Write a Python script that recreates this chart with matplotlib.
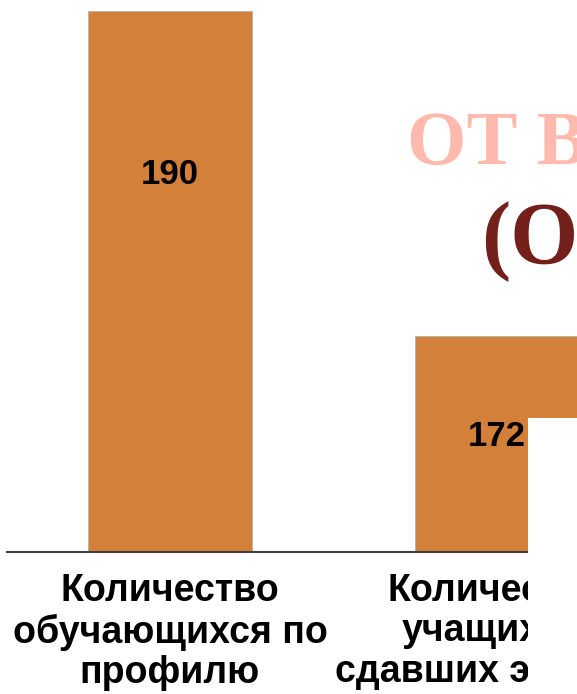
import matplotlib
matplotlib.use("Agg")
import matplotlib.pyplot as plt
from matplotlib.patches import Rectangle

# ---- data ----
categories = ["Количество\nобучающихся по\nпрофилю",
              "Количество\nучащихся,\nсдавших экзамен"]
values = [190, 172]
value_labels = ["190", "172"]
title_line1 = "ОТ ВЫБОРА"
title_line2 = "(ОГЭ)"

W, H = 577, 694
fig = plt.figure(figsize=(W / 100, H / 100), dpi=100)
fig.patch.set_facecolor("white")

ax = fig.add_axes([7 / W, (H - 552) / H, 570 / W, 552 / H])
x = list(range(len(values)))
bars = ax.bar(x, values, width=164 / 327, color="#D3803B",
              edgecolor="#B8B0A8", linewidth=0.6, zorder=2)
ax.set_xlim(-163 / 327, 1 + 80 / 327)
ax.set_ylim(160, 160 + 552 / (541 / 30))

for s in ["top", "right", "left"]:
    ax.spines[s].set_visible(False)
ax.spines["bottom"].set_color("#404040")
ax.spines["bottom"].set_linewidth(1.5)
ax.spines["bottom"].set_zorder(3)
ax.set_yticks([])
ax.set_xticks(x)
ax.set_xticklabels(categories, fontsize=27, fontweight="bold",
                   family="Liberation Sans", linespacing=1.16)
ax.tick_params(axis="x", length=0, pad=15)

# value labels (offset below bar top, px -> pt)
label_offsets_px = [163, 101]
for xi, v, lab, off in zip(x, values, value_labels, label_offsets_px):
    ax.annotate(lab, xy=(xi, v), xytext=(0, -off * 0.72),
                textcoords="offset points", ha="center", va="center",
                fontsize=25, fontweight="bold", family="Liberation Sans",
                color="black", zorder=4)

# overlaid slide title fragments
fig.text(407 / W, (H - 164) / H, title_line1, color="#FFB9AD",
         fontsize=55, fontweight="bold", family="Liberation Serif",
         ha="left", va="baseline")
fig.text(481 / W, (H - 263) / H, title_line2, color="#74201A",
         fontsize=63, fontweight="bold", family="Liberation Serif",
         ha="left", va="baseline")

# white covering block
fig.patches.append(Rectangle((528 / W, 0), (W - 528) / W, (H - 418) / H,
                             transform=fig.transFigure, facecolor="white",
                             edgecolor="none", zorder=10))

fig.savefig("out.png", dpi=100, facecolor="white")
